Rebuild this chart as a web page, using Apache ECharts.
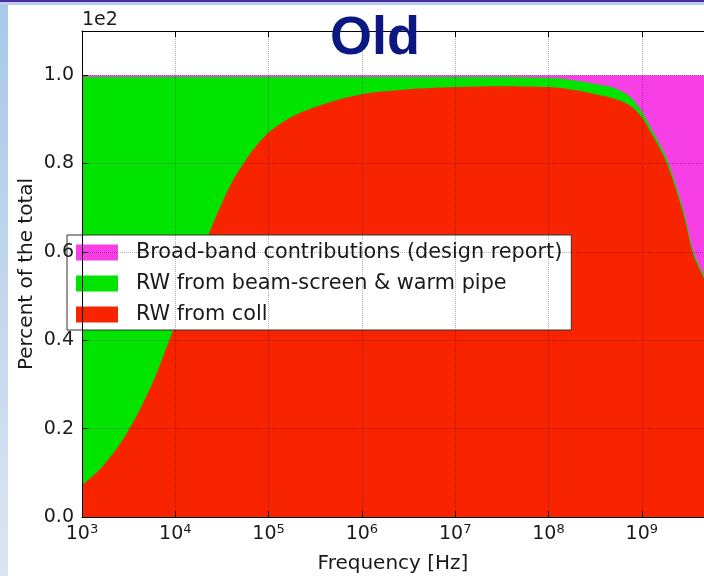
<!DOCTYPE html>
<html>
<head>
<meta charset="utf-8">
<script src="https://cdn.jsdelivr.net/npm/echarts@6/dist/echarts.min.js"></script>
<style>
html, body { margin: 0; padding: 0; background: #fff; }
#main { width: 704px; height: 576px; }
</style>
</head>
<body>
<div id="main"></div>
<script>
// log10 of frequency in Hz
var logFreq = [3.0, 3.1, 3.2, 3.3, 3.4, 3.5, 3.6, 3.7, 3.8, 3.9, 4.0, 4.1, 4.2, 4.3, 4.4, 4.5, 4.6, 4.73, 4.85, 5.0, 5.26, 5.63, 6.0, 6.5, 7.0, 7.5, 8.0, 8.2, 8.34, 8.5, 8.69, 8.87, 9.0, 9.1, 9.27, 9.44, 9.55, 9.62, 9.67];
// upper edge of each stacked band (fraction of total, x 1e2)
var collTop = [0.072, 0.09, 0.11, 0.135, 0.163, 0.197, 0.235, 0.278, 0.325, 0.38, 0.435, 0.495, 0.555, 0.61, 0.662, 0.71, 0.755, 0.80, 0.835, 0.87, 0.907, 0.937, 0.957, 0.968, 0.973, 0.975, 0.973, 0.969, 0.964, 0.957, 0.948, 0.932, 0.905, 0.87, 0.80, 0.69, 0.595, 0.56, 0.54];
var beamTop = [0.996, 0.996, 0.996, 0.996, 0.996, 0.996, 0.996, 0.996, 0.996, 0.996, 0.996, 0.996, 0.996, 0.996, 0.996, 0.996, 0.996, 0.996, 0.996, 0.996, 0.996, 0.996, 0.996, 0.996, 0.996, 0.996, 0.994, 0.991, 0.986, 0.98, 0.972, 0.952, 0.918, 0.88, 0.81, 0.70, 0.603, 0.567, 0.546];
var broadTop = [1, 1, 1, 1, 1, 1, 1, 1, 1, 1, 1, 1, 1, 1, 1, 1, 1, 1, 1, 1, 1, 1, 1, 1, 1, 1, 1, 1, 1, 1, 1, 1, 1, 1, 1, 1, 1, 1, 1];
var xTicks = [3, 4, 5, 6, 7, 8, 9];
var yTicks = [0, 0.2, 0.4, 0.6, 0.8, 1.0];

var freq = logFreq.map(function (l) { return Math.pow(10, l); });
function pairs(vals) {
  return vals.map(function (v, i) { return [freq[i], v]; });
}

var RED = '#f82400', GREEN = '#00e400', MAGENTA = '#f83fe6';
var font = 'DejaVu Sans';
var txt = '#1a1a1a';

var myChart = echarts.init(document.getElementById('main'));
function band(name, color, vals) {
  return {
    name: name, type: 'line', smooth: 0.3, symbol: 'none', z: 2,
    color: color, itemStyle: { color: color },
    lineStyle: { width: 0 }, areaStyle: { color: color, opacity: 1 },
    data: pairs(vals)
  };
}
var option = {
  backgroundColor: '#fff',
  animation: false,
  textStyle: { fontFamily: font },
  grid: { left: 82, top: 31, right: 0, bottom: 59, outerBoundsMode: 'none' },
  graphic: [
    { type: 'rect', left: 0, top: 0, shape: { width: 8, height: 576 },
      style: { fill: new echarts.graphic.LinearGradient(0, 0, 0, 1, [
        { offset: 0, color: '#a9c8ea' }, { offset: 1, color: '#dbe5f1' }]) } },
    { type: 'rect', left: 0, top: 0, shape: { width: 704, height: 5 }, style: { fill: '#b9cdee' } },
    { type: 'rect', left: 0, top: 0, shape: { width: 704, height: 2 }, style: { fill: '#4b2fa0' } },
    { type: 'text', left: 82, top: 11, style: { text: '1e2', font: '19px "DejaVu Sans"', fill: txt } },
    { type: 'text', z: 100, left: 330, top: 12,
      style: { text: 'Old', font: 'bold 54px "Liberation Sans"', fill: '#0b1782' } }
  ],
  legend: {
    orient: 'vertical', left: 67, top: 235,
    data: ['Broad-band contributions (design report)', 'RW from beam-screen & warm pipe', 'RW from coll'],
    icon: 'rect', itemWidth: 42, itemHeight: 16, itemGap: 10,
    padding: [7, 9, 5, 9],
    backgroundColor: '#fff', borderColor: '#333', borderWidth: 1, borderRadius: 0,
    textStyle: { fontFamily: font, fontSize: 20.8, color: txt, padding: [0, 0, 0, 13] }
  },
  xAxis: [{
    type: 'log', logBase: 10, min: 1e3, max: Math.pow(10, 9.667),
    z: 10,
    name: 'Frequency [Hz]', nameLocation: 'middle', nameGap: 37,
    nameTextStyle: { fontFamily: font, fontSize: 20, color: txt },
    axisLine: { show: true, lineStyle: { color: '#000', width: 1 } },
    axisTick: { inside: true, length: 6, lineStyle: { color: '#000' } },
    splitLine: { show: true, lineStyle: { type: 'dotted', color: 'rgba(0,0,0,0.3)' } },
    axisLabel: {
      showMaxLabel: false, margin: 6,
      formatter: function (v) {
        var l = Math.log10(v), e = Math.round(l);
        if (xTicks.indexOf(e) < 0 || Math.abs(l - e) > 1e-6) return '';
        return '{b|10}{s|' + e + '}';
      },
      rich: {
        b: { fontFamily: font, fontSize: 19, color: txt },
        s: { fontFamily: font, fontSize: 13, color: txt, padding: [0, 0, 10, 0] }
      }
    }
  }, {
    type: 'log', logBase: 10, min: 1e3, max: Math.pow(10, 9.667), position: 'top', z: 10,
    axisLine: { show: true, lineStyle: { color: '#000', width: 1 } },
    axisTick: { inside: true, length: 6, lineStyle: { color: '#000' } },
    axisLabel: { show: false }, splitLine: { show: false }
  }],
  yAxis: {
    type: 'value', min: 0, max: 1.1, interval: 0.2, z: 10,
    name: 'Percent of the total', nameLocation: 'middle', nameGap: 45, nameMoveOverlap: false,
    nameTextStyle: { fontFamily: font, fontSize: 20, color: txt },
    axisLine: { show: true, lineStyle: { color: '#000', width: 1 } },
    axisTick: { show: true, inside: true, length: 6, lineStyle: { color: '#000' } },
    splitLine: { show: true, lineStyle: { type: 'dotted', color: 'rgba(0,0,0,0.3)' } },
    axisLabel: {
      showMaxLabel: false, margin: 8, fontFamily: font, fontSize: 19, color: txt,
      formatter: function (v) {
        for (var i = 0; i < yTicks.length; i++) {
          if (Math.abs(v - yTicks[i]) < 1e-6) return yTicks[i].toFixed(1);
        }
        return '';
      }
    }
  },
  series: [
    band('Broad-band contributions (design report)', MAGENTA, broadTop),
    band('RW from beam-screen & warm pipe', GREEN, beamTop),
    band('RW from coll', RED, collTop)
  ]
};
myChart.setOption(option);
</script>
</body>
</html>
